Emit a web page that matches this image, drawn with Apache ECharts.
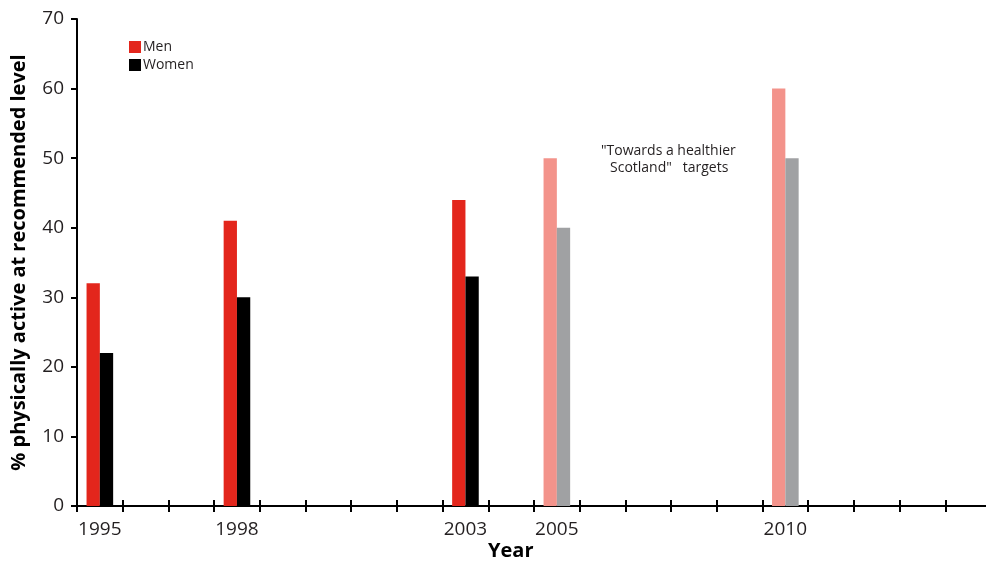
<!DOCTYPE html>
<html><head><meta charset="utf-8">
<script src="https://cdn.jsdelivr.net/npm/echarts@6/dist/echarts.min.js"></script>
<style>html,body{margin:0;padding:0;background:#fff}#c{width:986px;height:568px}</style>
</head><body><div id="c"></div>
<script>
const years = ['1995','1996','1997','1998','1999','2000','2001','2002','2003','2004','2005','2006','2007','2008','2009','2010','2011','2012','2013','2014'];
const tickLabels = ['1995','1998','2003','2005','2010'];
const surveyYears = ['1995','1998','2003'];
const menSurvey = [32, 41, 44];
const womenSurvey = [22, 30, 33];
const targetYears = ['2005','2010'];
const menTarget = [50, 60];
const womenTarget = [40, 50];
const seriesNames = ['Men', 'Women'];
const annotation = ['"Towards a healthier', 'Scotland"   targets'];

const FONT = 'Open Sans';
const TXT = '#231f20';
const colors = { menSurvey: '#e3261c', womenSurvey: '#000000', menTarget: '#f3938b', womenTarget: '#a0a1a3' };

function build(sy, sv, ty, tv, sc, tc) {
  const d = [];
  sy.forEach((y, i) => d.push({ value: [y, sv[i]], itemStyle: { color: sc } }));
  ty.forEach((y, i) => d.push({ value: [y, tv[i]], itemStyle: { color: tc } }));
  return d;
}

const chart = echarts.init(document.getElementById('c'), null, { renderer: 'canvas' });
chart.setOption({
  animation: false,
  textStyle: { fontFamily: FONT },
  grid: { left: 77, width: 914, top: 19, bottom: 62, containLabel: false, outerBoundsMode: 'none' },
  legend: {
    orient: 'vertical', left: 129, top: 40, itemGap: 4, padding: 0,
    itemWidth: 12, itemHeight: 12, icon: 'rect',
    textStyle: { fontFamily: FONT, fontSize: 14, color: TXT, padding: [0, 0, 0, -3] },
    data: [{ name: seriesNames[0], itemStyle: { color: colors.menSurvey } }, { name: seriesNames[1], itemStyle: { color: colors.womenSurvey } }]
  },
  xAxis: [{
    type: 'category', data: years, boundaryGap: true,
    axisLine: { lineStyle: { color: '#000', width: 2 } },
    axisTick: { show: true, length: 6, interval: 0, lineStyle: { color: '#000', width: 2 } },
    axisLabel: { interval: 0, fontFamily: FONT, fontSize: 19, color: TXT, margin: 14,
      formatter: v => tickLabels.indexOf(v) >= 0 ? v : '' },
    splitLine: { show: false }
  }, {
    type: 'category', data: years, boundaryGap: true, position: 'bottom',
    axisLine: { show: false },
    axisTick: { show: true, inside: true, length: 6, interval: 0, lineStyle: { color: '#000', width: 2 } },
    axisLabel: { show: false }, splitLine: { show: false }
  }],
  yAxis: {
    type: 'value', min: 0, max: 70, interval: 10,
    name: '% physically active at recommended level', nameLocation: 'middle', nameGap: 48,
    nameTextStyle: { fontFamily: FONT, fontSize: 20, fontWeight: 'bold', color: '#000' },
    axisLine: { show: true, lineStyle: { color: '#000', width: 2 } },
    axisTick: { show: true, length: 6, lineStyle: { color: '#000', width: 2 } },
    axisLabel: { fontFamily: FONT, fontSize: 19, color: TXT, margin: 13 },
    splitLine: { show: false }
  },
  series: [{
    name: seriesNames[0], type: 'bar', barWidth: 13.3, barGap: '0%',
    itemStyle: { color: colors.menSurvey },
    data: build(surveyYears, menSurvey, targetYears, menTarget, colors.menSurvey, colors.menTarget)
  }, {
    name: seriesNames[1], type: 'bar', barWidth: 13.3, barGap: '0%',
    itemStyle: { color: colors.womenSurvey },
    data: build(surveyYears, womenSurvey, targetYears, womenTarget, colors.womenSurvey, colors.womenTarget)
  }],
  graphic: [{
    type: 'text', left: 601, top: 144,
    style: { text: annotation[0], fontFamily: FONT, fontSize: 14, fill: TXT }
  }, {
    type: 'text', left: 610, top: 161,
    style: { text: annotation[1], fontFamily: FONT, fontSize: 14, fill: TXT }
  }, {
    type: 'text', left: 488, top: 541,
    style: { text: 'Year', fontFamily: FONT, fontSize: 20, fontWeight: 'bold', fill: '#000' }
  }]
});
</script></body></html>
